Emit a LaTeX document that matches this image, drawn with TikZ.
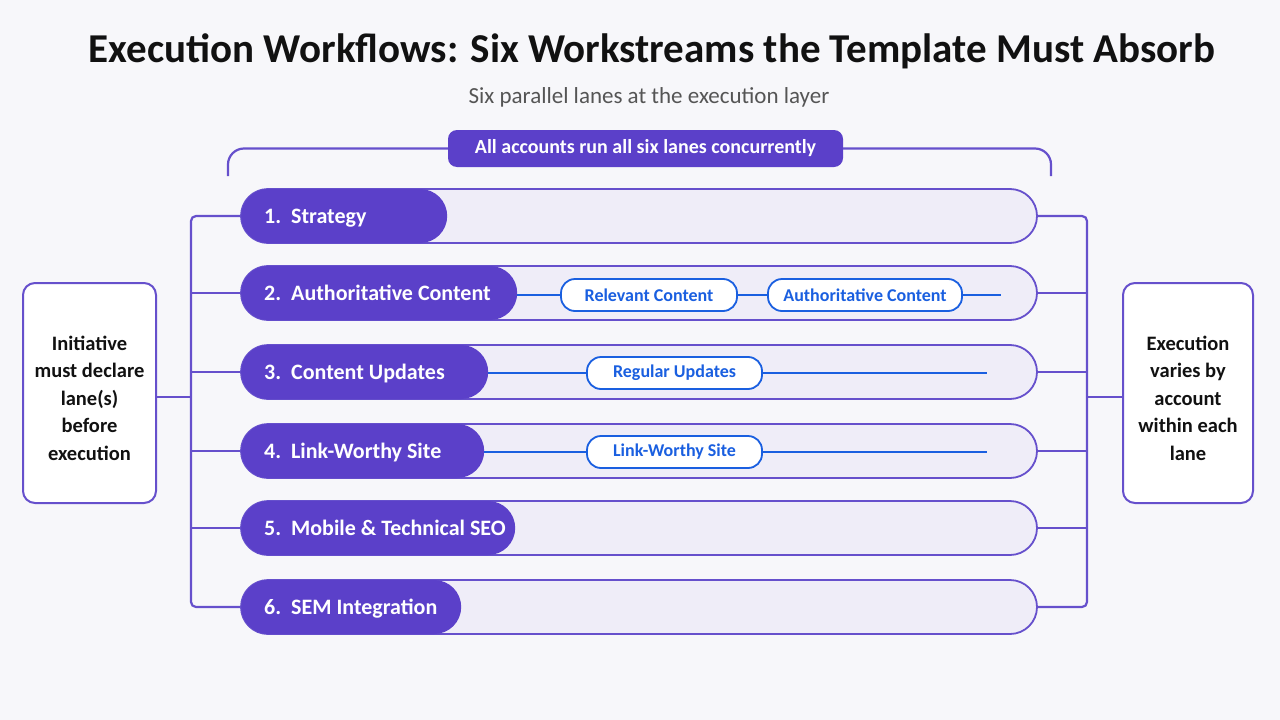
\documentclass[tikz,border=0pt]{standalone}
\usepackage{fontspec}
\setmainfont{Carlito}
\definecolor{bgc}{HTML}{F7F7FA}
\definecolor{purp}{HTML}{5B40C9}
\definecolor{laneb}{HTML}{6650CC}
\definecolor{lanef}{HTML}{EFEDF8}
\definecolor{bluec}{HTML}{1A5FE0}
\definecolor{titlec}{HTML}{111111}
\definecolor{subc}{HTML}{555555}
\begin{document}
\begin{tikzpicture}[x=1pt,y=-1pt,
  lane/.style={draw=laneb, line width=1.8pt, fill=lanef, minimum width=796pt, minimum height=54pt, rounded corners=27pt, inner sep=0pt},
  lab/.style={anchor=west, fill=purp, rounded corners=27pt, minimum height=54pt, inner xsep=23pt, inner ysep=0pt, text height=16pt, text depth=2pt, text=white, font=\bfseries\fontsize{22}{26}\selectfont},
  sidebox/.style={draw=laneb, line width=2pt, fill=white, rounded corners=12pt, minimum height=220pt, inner sep=0pt},
  sidetext/.style={align=center, text=titlec, font=\bfseries\fontsize{20.5}{27.5}\selectfont},
  conn/.style={draw=laneb, line width=2.2pt},
  bpill/.style={draw=bluec, line width=1.8pt, fill=white, rounded corners=14pt, minimum height=32pt, inner sep=0pt, text=bluec, font=\bfseries\fontsize{18}{21}\selectfont},
  bline/.style={draw=bluec, line width=1.6pt}]
\fill[bgc] (0,0) rectangle (1280,720);
\useasboundingbox (0,0) rectangle (1280,720);

\node[font=\bfseries\fontsize{41}{46}\selectfont, text=titlec] (title) at (652,51) {Execution Workflows: Six Workstreams the Template Must Absorb};
\node[font=\fontsize{23}{26}\selectfont, text=subc] (sub) at (649,97) {Six parallel lanes at the execution layer};

% banner and bracket
\node[fill=purp, rounded corners=9pt, minimum width=395pt, minimum height=37pt, inner sep=0pt, text=white, font=\bfseries\fontsize{20}{22}\selectfont] (ban) at (645.5,148.5) {All accounts run all six lanes concurrently};
\coordinate (bl) at (228,176);
\coordinate (br) at (1051,176);
\draw[conn, rounded corners=16pt] (bl) |- (ban.west);
\draw[conn, rounded corners=16pt] (ban.east) -| (br);

% lanes
\foreach \i/\y in {1/216,2/293,3/372,4/451,5/528,6/607}{
  \node[lane] (lane\i) at (639,\y) {};
}
\node[lab] (lab1) at (241,216) {\makebox[160pt][l]{1.\ \ Strategy}};
\node[lab] (lab2) at (241,293) {\makebox[230pt][l]{2.\ \ Authoritative Content}};
\node[lab] (lab3) at (241,372) {\makebox[201pt][l]{3.\ \ Content Updates}};
\node[lab] (lab4) at (241,451) {\makebox[197pt][l]{4.\ \ Link-Worthy Site}};
\node[lab] (lab5) at (241,528) {\makebox[228pt][l]{5.\ \ Mobile \& Technical SEO}};
\node[lab] (lab6) at (241,607) {\makebox[174pt][l]{6.\ \ SEM Integration}};

% blue pills
\node[bpill, minimum width=176pt] (rc) at (649,295) {Relevant Content};
\node[bpill, minimum width=194pt] (ac) at (865,295) {Authoritative Content};
\node[bpill, minimum width=175pt] (ru) at (674.5,373) {Regular Updates};
\node[bpill, minimum width=175pt] (lw) at (674.5,452) {Link-Worthy Site};
\coordinate (e2) at (1001,295);
\coordinate (e3) at (987,373);
\coordinate (e4) at (987,452);
\draw[bline] (lab2.east |- rc.west) -- (rc.west);
\draw[bline] (rc.east) -- (ac.west);
\draw[bline] (ac.east) -- (e2);
\draw[bline] (lab3.east |- ru.west) -- (ru.west);
\draw[bline] (ru.east) -- (e3);
\draw[bline] (lab4.east |- lw.west) -- (lw.west);
\draw[bline] (lw.east) -- (e4);

% side boxes
\node[sidebox, minimum width=133pt] (L) at (89.5,393) {};
\node[sidetext] (Lt) at (89.5,398) {Initiative\\must declare\\lane(s)\\before\\execution};
\node[sidebox, minimum width=130pt] (R) at (1188,393) {};
\node[sidetext] (Rt) at (1188,398) {Execution\\varies by\\account\\within each\\lane};

% left trunk
\coordinate (lt) at (191,397);
\draw[conn, rounded corners=5pt] (lab1.west) -| (lt) |- (lab6.west);
\foreach \i in {2,3,4,5}{ \draw[conn] (lab\i.west) -- (lab\i.west -| lt); }
\draw[conn] (L.east |- lt) -- (lt);

% right trunk
\coordinate (rt) at (1087,397);
\draw[conn, rounded corners=5pt] (lane1.east) -| (rt) |- (lane6.east);
\foreach \i in {2,3,4,5}{ \draw[conn] (lane\i.east) -- (lane\i.east -| rt); }
\draw[conn] (rt) -- (R.west |- rt);
\end{tikzpicture}
\end{document}
